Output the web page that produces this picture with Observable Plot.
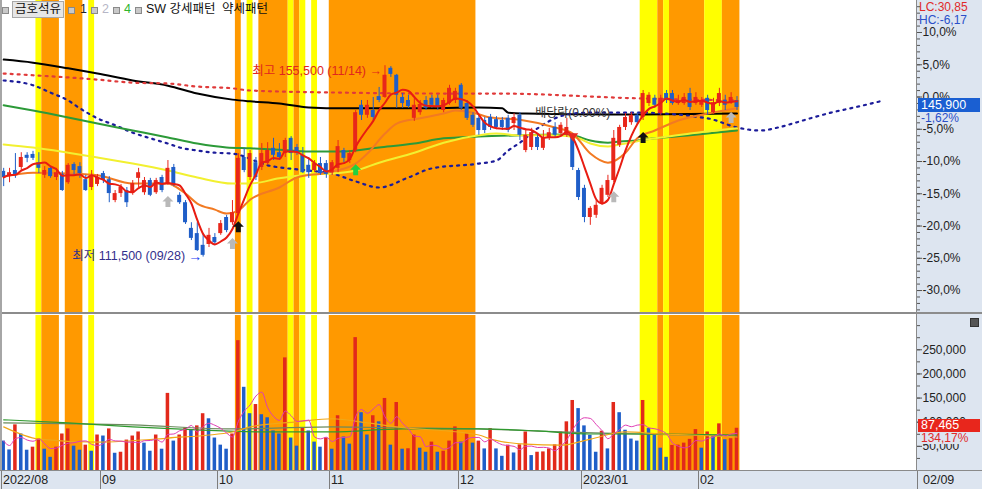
<!DOCTYPE html>
<html><head><meta charset="utf-8">
<script src="https://cdn.jsdelivr.net/npm/d3@7"></script>
<script src="https://cdn.jsdelivr.net/npm/@observablehq/plot@0.6"></script>
<style>
html,body{margin:0;padding:0;background:#fff;}
#root{position:relative;width:982px;height:489px;overflow:hidden;font-family:"Liberation Sans","Noto Sans CJK KR",sans-serif;}
.a{position:absolute;white-space:nowrap;}
</style></head><body><div id="root"></div>
<script>
// ---------- DATA ----------
const open = [
131200,130000,131400,132100,134900,135100,133200,130300,131900,129800,
130500,128600,132800,132300,129300,127500,128200,130700,129300,124500,
126100,126800,126100,129600,126300,129100,126300,129800,128400,132100,
125700,124000,118100,116900,114200,114400,116000,116900,120600,119400,
121500,134400,129800,133200,132100,133000,136500,135500,135300,138800,
136700,134900,132600,131400,133000,133000,130900,131900,136000,133700,
136000,146400,144100,145200,148400,148200,154900,153300,148200,147500,
143400,144700,147500,148000,148000,145200,146800,147500,151000,146800,
144100,143400,142900,143600,143100,142900,143400,142200,144100,136000,
136700,139000,136500,139000,141300,139900,139500,139500,131400,127300,
120600,121100,123800,125700,129100,137200,141300,142400,144100,143600,
146800,148000,144500,149100,149100,146800,146800,149100,146800,146400,
148000,144700,146800,147500,147000,147500];
const high = [
131900,131900,135300,135500,135500,135800,135500,132300,132300,131900,
131200,133000,133200,133200,130300,131400,130500,131200,130000,126800,
128200,127500,129100,131900,129800,129600,129600,130300,133700,132800,
126300,124500,119400,119400,116900,118100,116900,119900,121100,124500,
135300,136500,136000,134400,137600,137800,138800,137600,138800,139200,
137400,136700,134400,133700,134400,133700,133700,138300,136500,136000,
145200,147500,147500,148200,150500,155500,155300,153500,149100,148700,
148000,147500,148400,148700,148700,148000,151000,150300,151400,147500,
144700,144100,143600,144300,143800,143600,144100,144500,144700,140600,
141100,139900,140600,141100,142400,142400,143400,139900,131900,128000,
123100,124500,128000,130300,140600,141800,144500,144700,144700,149800,
149300,148700,148700,149800,149800,148700,149100,150300,149300,148200,
148700,148000,150300,148700,149300,148400];
const low = [
127700,128600,129600,131400,133200,133700,130700,129600,129600,129100,
126600,128200,130300,129600,126600,126800,127700,128400,124000,124000,
125200,122900,125700,127500,125700,125400,125900,126300,128000,127700,
123600,119000,115300,112800,111500,113700,114200,116500,117100,118800,
121100,130900,129100,129100,131400,132600,133700,133700,134400,133700,
134900,130700,129600,130900,130300,129600,130300,130900,133200,133000,
135500,142900,143400,142900,147000,148000,152800,145700,145700,145700,
142700,144100,145200,145700,145200,144700,146400,146800,145200,142900,
141300,139500,139900,140600,140800,140600,140100,140600,138300,135500,
136000,136000,136000,138300,139000,139500,139000,131400,124500,119400,
118800,120400,123400,125200,128600,136700,140600,141800,141800,142900,
146100,145700,144100,146800,146400,146400,146400,145200,146400,145900,
144100,144300,146100,145200,146600,145200];
const close = [
129800,130900,130500,134400,134200,134200,131900,131400,130000,130900,
126800,132600,131400,130700,126800,130000,129800,129100,126100,126100,
127500,124000,128400,130900,129100,125700,129100,126800,131900,128000,
124000,119400,115800,113000,111900,116500,114800,119200,117600,121700,
134200,131400,135300,129800,135300,136000,134900,134400,138300,135300,
135500,130900,130900,133000,130700,130500,133200,136900,134200,135300,
144700,144100,146400,143600,147500,153300,153500,148700,146800,146100,
146400,146600,145700,146400,145900,147500,150300,149600,145700,143400,
141800,140600,140600,141300,141300,141300,140600,143600,139500,139500,
140100,136700,138800,140100,139500,141800,141300,132100,125200,120600,
122700,123400,127300,129100,138800,141300,143600,144100,142400,149100,
148700,146400,148000,147500,146800,147500,148200,145900,148200,147500,
145200,147000,149100,146400,148200,145900];
const volume = [
60900,42600,94500,75600,42000,48300,65100,44100,27300,48300,
75600,86100,50400,42000,52500,39900,73500,71400,86100,35700,
37800,63000,71400,79800,56700,39900,73500,44100,159700,60900,
73500,88200,84000,92400,117600,107100,67200,52500,44100,75600,
268900,172300,117600,136600,115500,109200,81900,75600,233200,67200,
50400,88200,81900,58800,48300,67200,44100,113400,69300,54600,
275200,119700,73500,113400,100800,149200,52500,140800,44100,45000,
73500,46200,37800,58800,37800,39900,60900,90300,58800,75600,
56700,60900,44700,86800,44700,29400,52500,36300,53100,79800,
30900,37800,38500,44700,53100,79800,100800,145000,128200,92400,
72900,37800,81300,44700,140800,119700,83400,65100,60900,145000,
86800,74200,46200,27300,51900,52600,56700,64500,84700,46200,
79800,71400,96600,63700,65800,87465];
// signal pattern per day: Y = 강세패턴 (yellow), O = 약세패턴 (orange), . = none
const pattern = ("......YOOO.OOO.Y" + "........................" + "O.Y.OOOOOYOY.Y.." +
  "OOOOOOOOOOOOOOOOOOOOOOOOO" + "............................" + "YYYOYOOOOOOYYYOOO").split("");

// indicator lines read as [day index, price]
const maOrange = [[0,130000],[5,130900],[11,130700],[16,130300],[22,128400],[28,128400],[29,127900],[31,126100],[33,123800],[36,122400],[38,121500],[40,122200],[42,124700],[47,127500],[50,129800],[55,130900],[60,133000],[62,135300],[65,139900],[67,142200],[71,143400],[75,144500],[77,145200],[80,144700],[83,143600],[88,143100],[94,141300],[97,139900],[100,135300],[103,133200],[106,135500],[108,138800],[111,140600],[115,142900],[120,144500],[125,145700]];
const maYellow = [[0,137400],[5,136700],[11,135500],[16,134400],[22,133000],[28,131400],[33,129800],[39,128400],[42,128400],[47,129600],[52,130500],[56,130700],[60,131400],[64,133200],[70,135500],[75,137800],[81,139500],[84,139900],[88,139500],[94,139500],[98,138800],[100,137600],[103,136900],[105,137400],[108,138100],[111,138800],[117,139900],[125,141100]];
const maGreen = [[0,146400],[5,145200],[11,143600],[16,142200],[22,140600],[28,139000],[33,137600],[38,136700],[42,136500],[47,136200],[52,135800],[58,135800],[64,136700],[70,137600],[75,138800],[81,139200],[88,139500],[94,139700],[97,139500],[100,138300],[103,137800],[105,138100],[108,138300],[111,138800],[117,139500],[125,140600]];
const maBlack = [[0,156900],[5,156200],[11,154900],[16,153700],[22,152100],[28,150900],[33,149100],[39,147700],[42,147300],[47,146800],[52,145900],[58,145700],[70,145700],[81,145900],[85,145700],[86,144700],[89,144500],[103,144300],[109,144300],[125,144500]];
const lineRedDot = [[0,153700],[5,153300],[11,152800],[16,152300],[22,151600],[28,151400],[33,150700],[39,150300],[42,149800],[58,149300],[75,149100],[84,149100],[108,148000],[125,147500]];
const lineBlueDot = [[0,152100],[5,151000],[8,149300],[11,147500],[13,145700],[16,143400],[19,141800],[22,140100],[25,138800],[28,137600],[30,136700],[33,136000],[36,135500],[39,135300],[45,132600],[52,131400],[56,130700],[60,128900],[64,127500],[69,129800],[73,131900],[81,133000],[84,133700],[86,136000],[88,137800],[91,141100],[94,143400],[97,144500],[100,144700],[108,144700],[120,143400],[125,141300],[129,140600],[132,141300],[135,142400],[138,143600],[141,144700],[145,145900],[150,147500]];
const volMaOrange = [[0,90300],[6,65100],[16,58800],[28,67200],[39,79800],[42,90300],[50,100800],[56,107200],[62,98700],[67,90300],[81,73500],[83,65100],[89,54600],[95,52500],[100,65100],[106,79800],[112,75600],[117,73500],[125,69300]];
const volMaGreen = [[0,105000],[11,98700],[22,90300],[33,84000],[45,79800],[56,79800],[68,86100],[81,86100],[91,81900],[100,75600],[112,75600],[125,73500]];
const volMaOlive = [[0,98700],[22,94500],[39,86100],[56,90300],[68,88200],[81,86100],[95,79800],[125,71400]];

const markerIndex = [28, 39, 40, 60, 104, 109, 124, 97];
const markerPrice = [124300, 114600, 118500, 131600, 125400, 139000, 143600, 139200];
const markerKind  = ["gray","gray","black","green","gray","black","gray","red"];

const monthStart = [0, 17, 37, 56, 78, 99, 119];
const monthLabel = ["2022/08", "09", "10", "11", "12", "2023/01", "02"];
const refPrice = 148300;                 // 0.0% line
const pctTicks = [10, 5, 0, -5, -10, -15, -20, -25, -30];
const volTicks = [50000, 100000, 150000, 200000, 250000];
const highNote = {i: 65, p: 155500, text: "최고 155,500 (11/14) →"};
const lowNote  = {i: 34, p: 111500, text: "최저 111,500 (09/28)"};
const divNote  = {i: 97, p: 144500, text: "배당락(0.00%)"};
const lastPrice = 145900, lastPriceChg = "-1,62%";
const lastVol = 87465, lastVolChg = "134,17%";
const lcText = "LC:30,85", hcText = "HC:-6,17";

// ---------- CHART ----------
const FONT = '"Liberation Sans","Noto Sans CJK KR",sans-serif';
const RED = "#e8261a", BLUE = "#1f5ec8";
const N = close.length;
const xDomain = [-0.2, 155.6];
const priceDomain = [98530, 170490];
const volDomain = [0, 321000];
const bars = d3.range(N).map(i => ({i, o: open[i], h: high[i], l: low[i], c: close[i], v: volume[i],
  up: close[i] >= open[i], vUp: i > 0 && volume[i] > volume[i - 1]}));
const runs = [];
pattern.forEach((p, i) => {
  if (p === ".") return;
  const last = runs[runs.length - 1];
  if (last && last.p === p && last.end === i - 1) last.end = i; else runs.push({p, start: i, end: i});
});
const patColor = {O: "#ff9900", Y: "#ffff00"};
const markers = markerIndex.map((i, k) => ({i, p: markerPrice[k], kind: markerKind[k]}));
const kindColor = {gray: "#b9b9b9", black: "#111111", green: "#22d040", red: "#e82a20"};
const arrowUp = {draw(ctx, size) { const r = Math.sqrt(size / Math.PI);
  ctx.moveTo(0, -r); ctx.lineTo(r, 0); ctx.lineTo(r * 0.45, 0); ctx.lineTo(r * 0.45, r);
  ctx.lineTo(-r * 0.45, r); ctx.lineTo(-r * 0.45, 0); ctx.lineTo(-r, 0); ctx.closePath(); }};
const triDown = {draw(ctx, size) { const r = Math.sqrt(size / Math.PI);
  ctx.moveTo(-r, -r * 0.6); ctx.lineTo(r, -r * 0.6); ctx.lineTo(0, r * 0.8); ctx.closePath(); }};
const fmtPct = v => { const p = Math.round((v / refPrice - 1) * 100); return p.toFixed(1).replace(".", ",") + "%"; };
const minorPct = d3.range(-33, 15).map(p => refPrice * (1 + p / 100));
const kLine = (arr, o) => Plot.line(arr, {x: d => d[0], y: d => d[1], curve: "monotone-x", ...o});

const priceChart = Plot.plot({
  width: 982, height: 313, marginLeft: 2, marginRight: 66, marginTop: 0, marginBottom: 0,
  style: {background: "transparent", fontFamily: FONT, fontSize: "12px"},
  x: {domain: xDomain, axis: null},
  y: {domain: priceDomain},
  color: {type: "identity"},
  marks: [
    Plot.rect(runs, {x1: d => d.start - 0.5, x2: d => d.end + 0.5, y1: priceDomain[0], y2: priceDomain[1], fill: d => patColor[d.p]}),
    kLine(maBlack, {stroke: "#000", strokeWidth: 2}),
    kLine(lineRedDot, {stroke: "#e03a3a", strokeWidth: 2.2, strokeDasharray: "2,5"}),
    kLine(lineBlueDot, {stroke: "#1c1c9a", strokeWidth: 2.2, strokeDasharray: "2,5"}),
    kLine(maGreen, {stroke: "#2c9a38", strokeWidth: 2}),
    kLine(maYellow, {stroke: "#f2f030", strokeWidth: 2}),
    kLine(maOrange, {stroke: "#f27a22", strokeWidth: 2}),
    Plot.ruleX(bars, {x: "i", y1: "l", y2: "h", stroke: d => d.up ? RED : BLUE, strokeWidth: 1}),
    Plot.rect(bars, {x1: d => d.i - 0.34, x2: d => d.i + 0.34, y1: "o", y2: "c", fill: d => d.up ? RED : BLUE}),
    Plot.line(bars, Plot.windowY({k: 5, anchor: "end"}, {x: "i", y: "c", stroke: "#e81c12", strokeWidth: 2, curve: "monotone-x"})),
    Plot.dot(markers.filter(d => d.kind !== "red"), {x: "i", y: "p", r: 5.5, symbol: arrowUp, fill: d => kindColor[d.kind], stroke: null}),
    Plot.dot(markers.filter(d => d.kind === "red"), {x: "i", y: "p", r: 5.5, symbol: triDown, fill: d => kindColor[d.kind], stroke: null}),
    Plot.text([highNote], {x: "i", y: "p", text: "text", textAnchor: "end", dx: -3, dy: 5, fill: "#e0261e", fontSize: 12.5}),
    Plot.text([lowNote], {x: "i", y: "p", text: "text", textAnchor: "end", dx: -18, dy: -1, fill: "#33308c", fontSize: 12.5}),
    Plot.text([lowNote], {x: "i", y: "p", text: () => "→", textAnchor: "end", dx: -1, dy: -1, fill: "#1a3cf0", fontSize: 14, fontWeight: "bold"}),
    Plot.text([divNote], {x: "i", y: "p", text: "text", textAnchor: "middle", fill: "#333", fontSize: 12}),
    Plot.axisY(minorPct, {anchor: "right", tickSize: 3, tickFormat: () => "", stroke: "#555", label: null}),
    Plot.axisY(pctTicks.map(p => refPrice * (1 + p / 100)), {anchor: "right", tickSize: 5, tickPadding: 1, tickFormat: fmtPct, fill: "#222", stroke: "#555", fontSize: 12, label: null})
  ]
});

const volChart = Plot.plot({
  width: 982, height: 155, marginLeft: 2, marginRight: 66, marginTop: 0, marginBottom: 0,
  style: {background: "transparent", fontFamily: FONT, fontSize: "12px"},
  x: {domain: xDomain, axis: null},
  y: {domain: volDomain},
  color: {type: "identity"},
  marks: [
    Plot.rect(runs, {x1: d => d.start - 0.5, x2: d => d.end + 0.5, y1: volDomain[0], y2: volDomain[1], fill: d => patColor[d.p]}),
    Plot.rect(bars, {x1: d => d.i - 0.3, x2: d => d.i + 0.3, y1: 0, y2: "v", fill: d => d.vUp ? "#e2291b" : BLUE}),
    kLine(volMaOlive, {stroke: "#6b8a5e", strokeWidth: 1.2}),
    kLine(volMaGreen, {stroke: "#2f9a2f", strokeWidth: 1.2}),
    kLine(volMaOrange, {stroke: "#f0a818", strokeWidth: 1.2}),
    Plot.line(bars, Plot.windowY({k: 5, anchor: "end"}, {x: "i", y: "v", stroke: "#e03cb4", strokeWidth: 1, curve: "monotone-x"})),
    Plot.axisY(d3.range(25000, 325000, 25000), {anchor: "right", tickSize: 3, tickFormat: () => "", stroke: "#555", label: null}),
    Plot.axisY(volTicks, {anchor: "right", tickSize: 5, tickPadding: 1, tickFormat: d3.format(","), fill: "#222", stroke: "#555", fontSize: 12, label: null})
  ]
});

// ---------- LAYOUT ----------
const root = document.getElementById("root");
function box(css, text) { const d = document.createElement("div"); d.className = "a"; d.style.cssText = css; if (text != null) d.textContent = text; root.appendChild(d); return d; }
const PANEL = "#dde5f0";
box("left:916px;top:0;width:66px;height:470px;background:" + PANEL + ";border-left:1px solid #8a8a8a;box-sizing:border-box;");
box("left:0;top:470px;width:982px;height:19px;background:" + PANEL + ";border-top:1px solid #8a8a8a;box-sizing:border-box;");
const s1 = box("left:0;top:0;"); s1.appendChild(priceChart);
const s2 = box("left:0;top:315px;"); s2.appendChild(volChart);
box("left:0;top:312px;width:982px;height:2px;background:#8c8c8c;");
box("left:0;top:0;width:2px;height:470px;background:#a6a6a6;");
box("left:970px;top:318px;width:7px;height:7px;background:#555;border:1px solid #333;");

// date axis
const xs = priceChart.scale("x");
monthStart.forEach((i, k) => {
  const px = Math.round(xs.apply(i - 0.5));
  box(`left:${Math.max(px, 1)}px;top:471px;width:1px;height:18px;background:#7d7d7d;`);
  box(`left:${Math.max(px, 1) + 2}px;top:472px;font-size:12.5px;color:#222;line-height:16px;`, monthLabel[k]);
});
box("left:917px;top:471px;width:1px;height:18px;background:#7d7d7d;");
box("left:923px;top:472px;font-size:12.5px;color:#222;line-height:16px;", "02/09");

// right-side value tags
const ys = priceChart.scale("y"), vs = volChart.scale("y");
box("left:919px;top:1px;font-size:12px;color:#e02a2a;line-height:13px;", lcText);
box("left:919px;top:14px;font-size:12px;color:#2a4fc8;line-height:13px;", hcText);
const py = ys.apply(lastPrice);
box(`left:918px;top:${py - 9}px;width:62px;height:14px;background:#1a5fd2;color:#fff;font-size:12.5px;line-height:14px;padding-left:3px;box-sizing:border-box;`, lastPrice.toLocaleString("en-US"));
box(`left:921px;top:${py + 5}px;font-size:12px;color:#2a4fc8;line-height:13px;`, lastPriceChg);
const vy = vs.apply(lastVol) + 315;
box(`left:918px;top:${vy - 9}px;width:62px;height:13px;background:#e8261c;color:#fff;font-size:12.5px;line-height:13px;padding-left:3px;box-sizing:border-box;`, lastVol.toLocaleString("en-US"));
box(`left:921px;top:${vy + 4}px;height:12px;background:${PANEL};font-size:12px;color:#e02a2a;line-height:12px;padding-right:6px;`, lastVolChg);

// legend
const ICON = "width:5px;height:5px;background:#c9c9c9;border:1px solid #8a8a8a;top:7px;";
box("left:2px;" + ICON);
box("left:12px;top:1px;width:52px;height:17px;background:#e6e6e6;border:1px solid #a8a8a8;box-sizing:border-box;font-size:12.5px;line-height:15px;text-align:center;color:#111;", "금호석유");
box("left:68px;" + ICON);
box("left:80px;top:2px;font-size:12.5px;color:#222;line-height:15px;", "1");
box("left:91px;" + ICON);
box("left:102px;top:2px;font-size:12.5px;color:#b6b6c6;line-height:15px;", "2");
box("left:113px;" + ICON);
box("left:124px;top:2px;font-size:12.5px;color:#2fb52f;line-height:15px;", "4");
box("left:135px;" + ICON);
box("left:146px;top:2px;font-size:12.5px;color:#111;line-height:15px;", "SW 강세패턴");
box("left:222px;top:2px;font-size:12.5px;color:#111;line-height:15px;", "약세패턴");
</script></body></html>
